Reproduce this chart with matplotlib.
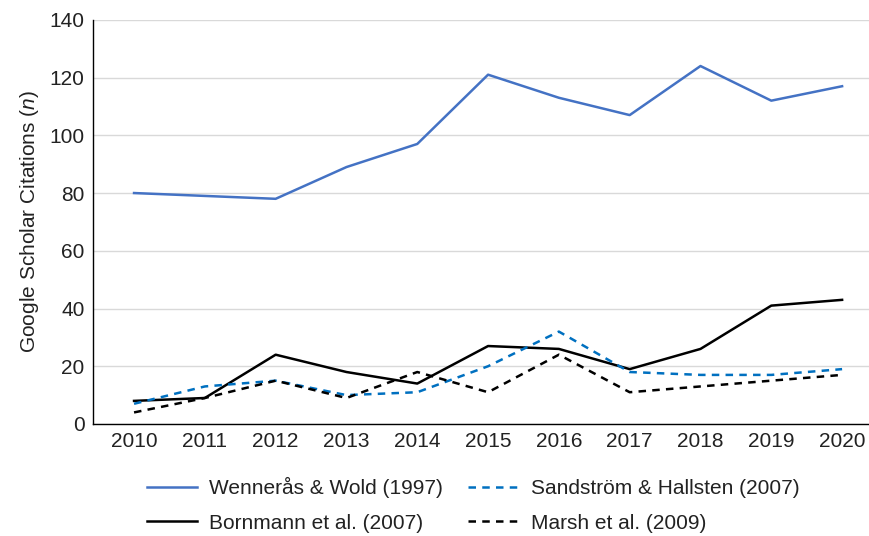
import matplotlib

matplotlib.use("Agg")
import matplotlib.pyplot as plt

YEARS = [2010, 2011, 2012, 2013, 2014, 2015, 2016, 2017, 2018, 2019, 2020]
WENNERAS = [80, 79, 78, 89, 97, 121, 113, 107, 124, 112, 117]
SANDSTROM = [7, 13, 15, 10, 11, 20, 32, 18, 17, 17, 19]
BORNMANN = [8, 9, 24, 18, 14, 27, 26, 19, 26, 41, 43]
MARSH = [4, 9, 15, 9, 18, 11, 24, 11, 13, 15, 17]

# legend is filled column by column, so list the left column first
SERIES = [
    ("Wennerås & Wold (1997)", WENNERAS, "#4472c4", "-"),
    ("Bornmann et al. (2007)", BORNMANN, "#000000", "-"),
    ("Sandström & Hallsten (2007)", SANDSTROM, "#0070c0", (0, (3, 2.5))),
    ("Marsh et al. (2009)", MARSH, "#000000", (0, (3, 2.5))),
]

plt.rcParams["font.family"] = ["Liberation Sans", "DejaVu Sans"]
plt.rcParams["mathtext.fontset"] = "custom"
plt.rcParams["mathtext.it"] = "Liberation Sans:italic"
plt.rcParams["mathtext.rm"] = "Liberation Sans"

fig = plt.figure(figsize=(8.69, 5.36), dpi=100)
ax = fig.add_axes([0.107, 0.209, 0.893, 0.754])

for label, values, color, style in SERIES:
    ax.plot(YEARS, values, color=color, linestyle=style, lw=1.8, label=label)

ax.set_xlim(2009.42, 2020.38)
ax.set_ylim(0, 140)
ax.set_xticks(YEARS)
ax.set_yticks(range(0, 141, 20))
ax.tick_params(length=0, labelsize=15, colors="#222222", pad=6)
ax.grid(axis="y", color="#d9d9d9", lw=1.0)
ax.set_axisbelow(True)
for side in ("top", "right"):
    ax.spines[side].set_visible(False)
for side in ("left", "bottom"):
    ax.spines[side].set_color("#000000")
    ax.spines[side].set_linewidth(1.0)
ax.set_ylabel(r"Google Scholar Citations ($n$)", fontsize=15, color="#222222", labelpad=6)

ax.legend(
    loc="upper center",
    bbox_to_anchor=(0.49, -0.085),
    ncol=2,
    frameon=False,
    fontsize=15,
    handlelength=2.4,
    handletextpad=0.6,
    columnspacing=1.2,
    labelspacing=0.75,
    labelcolor="#222222",
)

fig.savefig("out.png", dpi=100)
